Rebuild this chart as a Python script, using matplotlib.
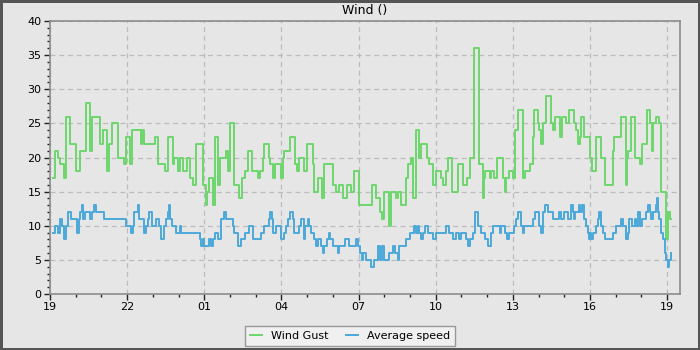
import datetime as dt
import matplotlib
matplotlib.use('Agg')
import matplotlib.pyplot as plt
import matplotlib.dates as mdates

# DATA ---------------------------------------------------------------------------------------------
# minutes after 19:00 where the reading changes, and the new value (knots)
gust_min = [8, 11, 12, 18, 24, 32, 37, 47, 61, 69, 83, 93, 98, 117, 123, 133, 138, 145, 159, 173,
            178, 187, 192, 212, 215, 220, 244, 253, 269, 276, 286, 290, 298, 303, 310, 319, 327, 333,
            341, 356, 363, 366, 372, 381, 384, 393, 397, 411, 416, 419, 430, 440, 447, 454, 461, 472,
            485, 489, 496, 500, 510, 514, 520, 525, 538, 543, 547, 561, 572, 577, 582, 592, 600, 613,
            617, 626, 635, 640, 660, 668, 675, 683, 693, 703, 710, 722, 751, 761, 770, 775, 780, 790,
            796, 808, 812, 819, 831, 836, 843, 848, 853, 862, 866, 879, 884, 893, 900, 913, 918, 923,
            928, 938, 952, 963, 973, 979, 989, 1001, 1010, 1012, 1016, 1026, 1028, 1035, 1044, 1057,
            1061, 1065, 1070, 1080, 1084, 1092, 1103, 1109, 1119, 1127, 1129, 1138, 1142, 1146, 1150,
            1158, 1168, 1173, 1178, 1189, 1194, 1203, 1211, 1222, 1228, 1232, 1236, 1240, 1247, 1260,
            1265, 1275, 1286, 1296, 1313, 1317, 1333, 1343, 1346, 1349, 1356, 1364, 1376, 1382, 1393,
            1401, 1405, 1408, 1413, 1422, 1426, 1438, 1442, 1446, 1450]
gust_val = [17, 19, 21, 20, 19, 17, 26, 22, 18, 21, 28, 21, 26, 22, 24, 18, 22, 25, 20, 19,
            23, 19, 24, 22, 24, 22, 23, 19, 18, 23, 19, 20, 18, 20, 18, 20, 17, 16,
            22, 16, 13, 15, 17, 13, 23, 16, 20, 21, 18, 25, 16, 14, 17, 18, 21, 18,
            17, 18, 20, 22, 20, 19, 17, 19, 17, 20, 21, 23, 19, 18, 20, 18, 22, 19,
            15, 17, 14, 19, 16, 15, 16, 14, 16, 15, 18, 13, 16, 14, 12, 11, 15, 10,
            15, 14, 15, 13, 17, 19, 20, 14, 24, 20, 22, 20, 19, 16, 18, 17, 16, 18,
            20, 15, 19, 16, 17, 20, 36, 19, 14, 17, 18, 17, 18, 17, 20, 17,
            15, 17, 18, 17, 24, 27, 17, 18, 19, 23, 27, 25, 24, 22, 25,
            29, 25, 24, 26, 23, 26, 25, 27, 25, 24, 22, 23, 26, 23, 20,
            18, 23, 20, 16, 21, 23, 26, 16, 20, 21, 26, 20, 19, 22, 27,
            25, 21, 25, 26, 25, 15, 8, 12, 11, 11]

avg_min = [8, 12, 19, 24, 29, 33, 37, 43, 49, 63, 67, 71, 74, 76, 82, 94, 97, 102, 107, 127,
           177, 189, 193, 197, 205, 208, 219, 224, 228, 232, 238, 247, 254, 259, 267, 271, 275, 277,
           280, 285, 294, 303, 306, 349, 353, 356, 360, 372, 376, 380, 386, 391, 399, 405, 411, 426,
           430, 438, 446, 454, 465, 473, 493, 500, 510, 514, 517, 520, 528, 538, 547, 551, 555, 561,
           566, 570, 582, 586, 592, 595, 601, 605, 609, 615, 621, 625, 633, 636, 640, 647, 650, 654,
           660, 671, 675, 689, 697, 714, 718, 724, 728, 731, 738, 749, 757, 765, 769, 775, 780, 792,
           800, 804, 812, 815, 831, 839, 850, 854, 858, 862, 866, 870, 874, 882, 893, 901, 924, 932,
           940, 948, 954, 960, 971, 975, 979, 987, 991, 998, 1005, 1016, 1022, 1028, 1033, 1049,
           1053, 1061, 1067, 1070, 1082, 1088, 1092, 1098, 1103, 1107, 1127, 1131, 1140, 1145, 1150,
           1154, 1162, 1173, 1187, 1193, 1199, 1208, 1215, 1220, 1222, 1226, 1234, 1237, 1242, 1247,
           1251, 1255, 1258, 1261, 1263, 1268, 1273, 1278, 1282, 1286, 1290, 1294, 1313, 1321, 1333,
           1337, 1343, 1348, 1352, 1359, 1364, 1368, 1372, 1377, 1382, 1390, 1395, 1399, 1403, 1407,
           1413, 1416, 1418, 1422, 1426, 1430, 1434, 1438, 1442, 1444, 1448, 1450]
avg_val = [9, 10, 9, 11, 10, 8, 10, 12, 11, 9, 11, 12, 13, 11, 12, 11, 12, 13, 12, 11,
           10, 9, 10, 12, 13, 11, 9, 10, 11, 12, 10, 11, 10, 8, 10, 11, 12, 13,
           11, 10, 9, 10, 9, 8, 7, 8, 7, 8, 7, 8, 9, 8, 11, 12, 11, 10,
           9, 7, 8, 9, 10, 8, 9, 10, 11, 12, 11, 9, 10, 8, 9, 10, 11, 12,
           11, 9, 10, 11, 8, 10, 11, 10, 9, 8, 7, 8, 7, 6, 7, 8, 9, 8,
           7, 6, 7, 8, 7, 8, 7, 6, 5, 6, 5, 4, 5, 7, 5, 7, 5, 6,
           7, 6, 5, 7, 8, 9, 10, 9, 10, 9, 8, 9, 10, 9, 8, 9, 10, 9,
           8, 9, 8, 9, 8, 7, 8, 9, 12, 10, 9, 8, 7, 9, 10, 9,
           10, 9, 8, 9, 10, 11, 12, 10, 9, 10, 11, 12, 10, 9, 12,
           13, 12, 11, 12, 11, 12, 11, 13, 12, 11, 12, 13, 12, 13, 11,
           10, 9, 8, 9, 8, 9, 10, 11, 12, 10, 9, 8, 9, 10, 11,
           10, 8, 9, 11, 10, 11, 10, 12, 10, 11, 12, 13, 12, 11, 12,
           13, 14, 12, 11, 9, 8, 6, 5, 4, 5, 6, 6]

start = dt.datetime(2024, 5, 19, 19, 0)
y_ticks = [0, 5, 10, 15, 20, 25, 30, 35, 40]


def to_times(minutes):
    return [start + dt.timedelta(minutes=m) for m in minutes]


# PLOT ---------------------------------------------------------------------------------------------
bg = '#e6e6e6'
fig = plt.figure(figsize=(7, 3.5), dpi=100, facecolor=bg, edgecolor='#555555', linewidth=2.5)
ax = fig.add_axes([0.0714, 0.16, 0.9, 0.78])
ax.set_facecolor(bg)

ax.step(to_times(gust_min), gust_val, where='post', color='#6dd66d', lw=1.4, label='Wind Gust')
ax.step(to_times(avg_min), avg_val, where='post', color='#4ba9da', lw=1.4, label='Average speed')

ax.set_xlim(start, start + dt.timedelta(minutes=1470))
ax.set_ylim(0, 40)
ax.set_yticks(y_ticks)
ax.yaxis.set_minor_locator(plt.MultipleLocator(1))
ax.xaxis.set_major_locator(mdates.HourLocator(byhour=range(1, 24, 3)))
ax.xaxis.set_minor_locator(mdates.HourLocator())
ax.xaxis.set_major_formatter(mdates.DateFormatter('%H'))

ax.grid(True, which='major', linestyle=(0, (4, 3)), color='#bcbcbc', linewidth=0.9)
ax.set_axisbelow(True)
for sp in ax.spines.values():
    sp.set_color('#8c8c8c')
    sp.set_linewidth(1.2)
ax.tick_params(which='major', length=4, width=1, color='#222222', labelsize=8, pad=2)
ax.tick_params(which='minor', length=2.5, width=1, color='#222222')

ax.set_title('Wind ()', fontsize=9, pad=5)

fig.legend(loc='lower center', bbox_to_anchor=(0.5, -0.004), ncol=2, fontsize=8, frameon=True,
           fancybox=False, edgecolor='#999999', facecolor='#f0f0f0', framealpha=1,
           handlelength=1.1, columnspacing=1.5, borderpad=0.45)

plt.savefig('out.png', dpi=100, facecolor=bg, edgecolor=fig.get_edgecolor())
